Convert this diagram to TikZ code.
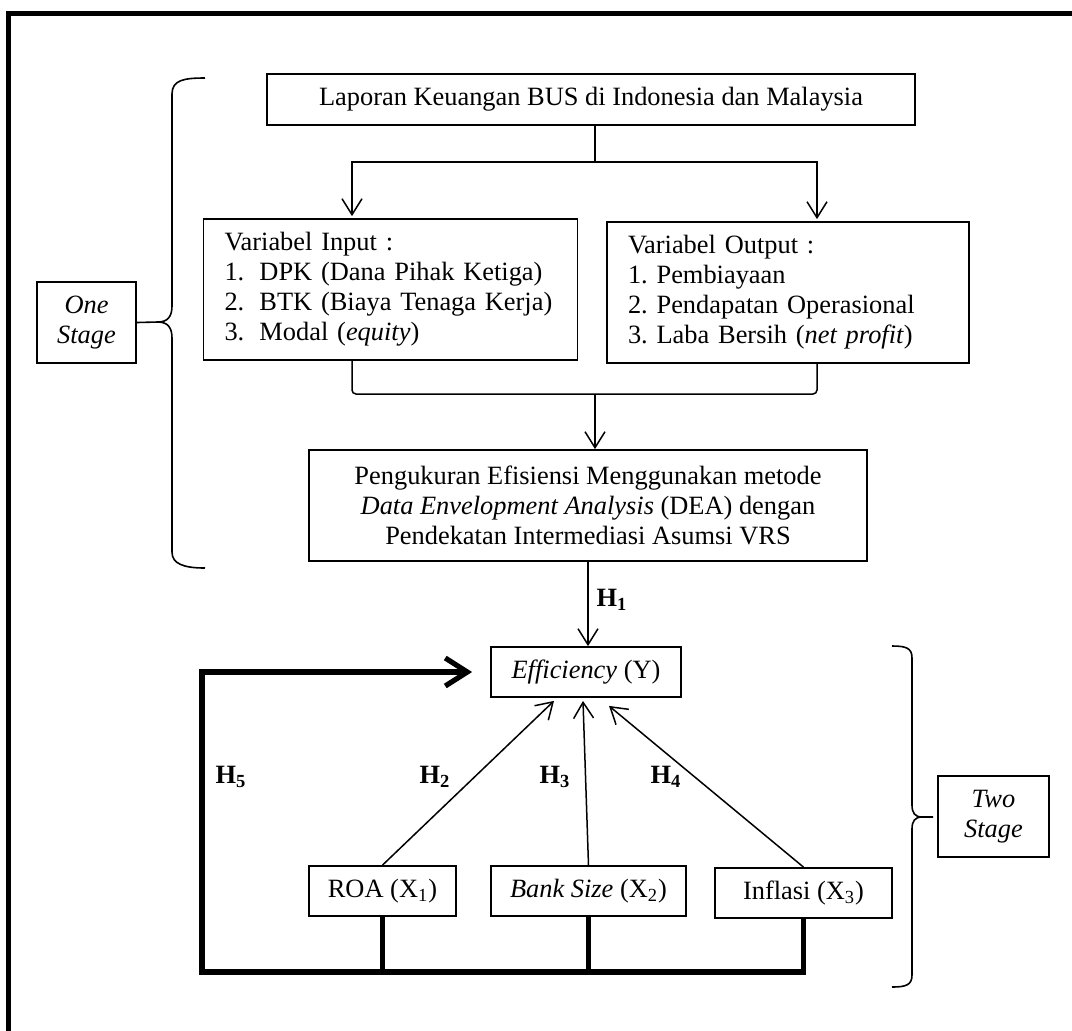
\documentclass[tikz,border=0pt]{standalone}
\usepackage{fontspec}
\setmainfont{Liberation Serif}
\usetikzlibrary{arrows.meta, positioning, calc}
\newcommand{\bodyfont}{\fontsize{13.2}{15}\selectfont\frenchspacing}
\tikzset{
  varbox/.style={
    draw=black, line width=0.9pt, inner sep=0pt,
    align=center, font=\bodyfont
  },
  listbox/.style={varbox, align=left, inner xsep=11pt},
  stagebox/.style={varbox, font=\bodyfont\itshape},
  link/.style={line width=0.75pt},
  flow/.style={-{Straight Barb[length=8pt,width=10pt]}, line width=0.75pt},
  flowthick/.style={-{Straight Barb[length=11pt,width=14pt]}, line width=2.6pt},
  bus/.style={line width=2.6pt},
  brace/.style={line width=0.8pt},
  hyp/.style={font=\bodyfont\bfseries, inner sep=0pt},
  frame/.style={line width=2.5pt},
}

\begin{document}
\begin{tikzpicture}[x=0.5pt, y=-0.5pt]
  \useasboundingbox (0,0) rectangle (1072,1030);
  \draw[frame] (8,1040) -- (8,13) -- (1080,13);

  % One stage
  \node[varbox, minimum width=324pt, minimum height=25.5pt] (lap) at (591,99.5)
    {Laporan Keuangan BUS di Indonesia dan Malaysia};
  \node[listbox, text width=166pt, inner xsep=10.5pt, minimum height=70.5pt] (inp) at (390.5,289.5)
    {Variabel Input :\\
     \makebox[17.5pt][l]{1.}DPK (Dana Pihak Ketiga)\\
     \makebox[17.5pt][l]{2.}BTK (Biaya Tenaga Kerja)\\
     \makebox[17.5pt][l]{3.}Modal (\textit{equity})};
  \node[listbox, text width=160pt, inner xsep=10.5pt, minimum height=70.5pt] (outp) at (788,292.5)
    {Variabel Output :\\
     1. Pembiayaan\\
     2. Pendapatan Operasional\\
     3. Laba Bersih (\textit{net profit})};
  \node[varbox, minimum width=279pt, minimum height=55.5pt] (dea) at (588,505.5)
    {Pengukuran Efisiensi Menggunakan metode\\
     \textit{Data Envelopment Analysis} (DEA) dengan\\
     Pendekatan Intermediasi Asumsi VRS};
  \node[stagebox, minimum width=49.5pt, minimum height=40.5pt] (one) at (86.5,322.5) {One\\Stage};

  \coordinate (split) at (595,162);
  \coordinate (inTop) at (352,162);
  \coordinate (outTop) at (817,162);
  \draw[link] (lap.south -| split) -- (split);
  \draw[flow, shorten >=1pt] (split) -- (inTop) -- (inTop |- inp.north);
  \draw[flow, shorten >=1pt] (split) -- (outTop) -- (outTop |- outp.north);

  \coordinate (join) at (595,394);
  \draw[link, rounded corners=2pt] (inTop |- inp.south) |- (join) -| (outTop |- outp.south);
  \draw[flow] (join) -- (join |- dea.north);

  \draw[brace] (205,78) .. controls (184,78) and (172,80) .. (172,94)
    -- (172,306) .. controls (172,316) and (168,322) .. (158,322)
    .. controls (168,322) and (172,328) .. (172,338)
    -- (172,552) .. controls (172,564) and (184,568) .. (205,568);
  \coordinate (oneTip) at (158,322);
  \draw[brace] (oneTip) -- (one.east);

  % Two stage
  \node[varbox, minimum width=95pt, minimum height=25pt] (eff) at (586,672) {\textit{Efficiency} (Y)};
  \node[varbox, minimum width=73.5pt, minimum height=25pt] (roa) at (382.5,891) {ROA (X\textsubscript{1})};
  \node[varbox, minimum width=97.5pt, minimum height=25pt] (size) at (588.5,891) {\textit{Bank Size} (X\textsubscript{2})};
  \node[varbox, minimum width=88.5pt, minimum height=25pt] (infl) at (803.5,893) {Inflasi (X\textsubscript{3})};
  \node[stagebox, minimum width=55.5pt, minimum height=40.5pt] (two) at (993.5,816.5) {Two\\Stage};

  \draw[flow] (dea.south) -- (dea.south |- eff.north);
  \node[hyp] (h1) at (612,600) {H\textsubscript{1}};

  \draw[flow] (roa.north) -- ([xshift=-16pt, yshift=-1.5pt]eff.south);
  \draw[flow] (size.north) -- ([xshift=-1.5pt, yshift=-1.5pt]eff.south);
  \draw[flow] (infl.north) -- ([xshift=11.5pt, yshift=-4pt]eff.south);
  \node[hyp] (h2) at (435,777) {H\textsubscript{2}};
  \node[hyp] (h3) at (555,777) {H\textsubscript{3}};
  \node[hyp] (h4) at (666,777) {H\textsubscript{4}};
  \node[hyp] (h5) at (231,777) {H\textsubscript{5}};

  \coordinate (busL) at (202,972);
  \draw[bus] (roa.south) -- (roa.south |- busL);
  \draw[bus] (size.south) -- (size.south |- busL);
  \draw[flowthick] (infl.south) |- (busL) |- ([xshift=-9pt]eff.west);

  \draw[brace] (892,646) .. controls (906,646) and (912,648) .. (912,658)
    -- (912,805) .. controls (912,813) and (915,817) .. (922,817)
    -- (933,817) -- (922,817)
    .. controls (915,817) and (912,821) .. (912,829)
    -- (912,975) .. controls (912,985) and (906,987) .. (892,987);
\end{tikzpicture}
\end{document}
